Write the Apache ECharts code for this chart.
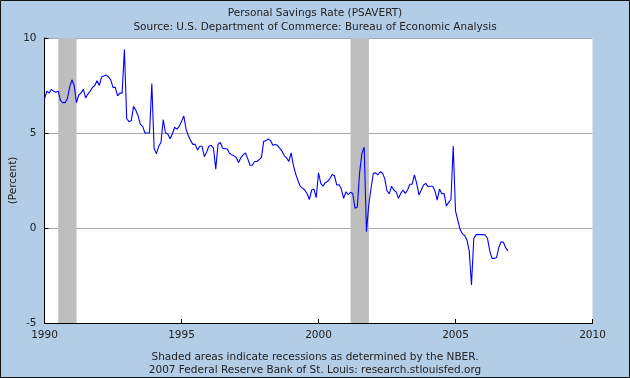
<!DOCTYPE html>
<html>
<head>
<meta charset="utf-8">
<script src="https://cdn.jsdelivr.net/npm/echarts@6/dist/echarts.min.js"></script>
<style>html,body{margin:0;padding:0;background:#B4CDE6;}#c{width:630px;height:378px;}</style>
</head>
<body>
<div id="c"></div>
<script>
// Monthly personal savings rate (%), Jan 1990 .. Dec 2006
const startYear = 1990;
const savingsRate = [
  6.8, 7.2, 7.1, 7.3, 7.2, 7.15, 7.2, 6.7, 6.6, 6.6, 6.8, 7.4,
  7.8, 7.5, 6.6, 7.0, 7.1, 7.3, 6.85, 7.05, 7.2, 7.4, 7.5, 7.75,
  7.5, 7.95, 8.0, 8.05, 7.95, 7.8, 7.4, 7.4, 6.95, 7.1, 7.1, 9.4,
  5.75, 5.6, 5.65, 6.4, 6.2, 5.9, 5.45, 5.35, 5.0, 5.0, 5.0, 7.6,
  4.2, 3.9, 4.3, 4.5, 5.7, 5.0, 4.95, 4.7, 4.95, 5.3, 5.2, 5.35,
  5.6, 5.9, 5.2, 4.85, 4.6, 4.4, 4.4, 4.1, 4.3, 4.3, 3.75, 4.0,
  4.3, 4.35, 4.2, 3.1, 4.4, 4.5, 4.2, 4.17, 4.17, 3.93, 3.85, 3.8,
  3.7, 3.45, 3.7, 3.85, 3.95, 3.65, 3.3, 3.3, 3.5, 3.5, 3.6, 3.7,
  4.57, 4.6, 4.68, 4.6, 4.35, 4.4, 4.35, 4.2, 4.05, 3.8, 3.7, 3.5,
  3.95, 3.3, 2.85, 2.5, 2.2, 2.1, 2.0, 1.8, 1.5, 2.0, 2.05, 1.6,
  2.9, 2.35, 2.2, 2.4, 2.45, 2.6, 2.82, 2.75, 2.26, 2.28, 2.05, 1.56,
  1.9, 1.75, 1.88, 1.82, 1.04, 1.1, 2.9, 3.93, 4.25, -0.19, 1.2, 2.1,
  2.88, 2.9, 2.8, 2.96, 2.9, 2.6, 1.95, 1.8, 2.2, 2.0, 1.9, 1.56,
  1.82, 2.0, 1.82, 2.0, 2.3, 2.3, 2.79, 2.35, 1.74, 2.0, 2.26, 2.35,
  2.18, 2.2, 2.2, 1.95, 1.47, 2.05, 1.8, 1.82, 1.16, 1.35, 1.5, 4.32,
  0.9, 0.42, -0.07, -0.3, -0.4, -0.63, -1.2, -3.0, -0.55, -0.35, -0.35, -0.35,
  -0.35, -0.37, -0.55, -1.2, -1.6, -1.6, -1.55, -1.0, -0.72, -0.75, -1.05, -1.2
];
// NBER recessions (decimal years)
const recessions = [[1990.5, 1991.17], [2001.17, 2001.84]];
const xTicks = [1990, 1995, 2000, 2005, 2010];
const yTicks = [-5, 0, 5, 10];

const titleText = 'Personal Savings Rate (PSAVERT)';
const subText = 'Source: U.S. Department of Commerce: Bureau of Economic Analysis';
const foot1 = 'Shaded areas indicate recessions as determined by the NBER.';
const foot2 = '2007 Federal Reserve Bank of St. Louis: research.stlouisfed.org';

const FONT = 'DejaVu Sans';
const seriesData = savingsRate.map((v, i) => [startYear + i / 12, v]);

const chart = echarts.init(document.getElementById('c'), null, {renderer: 'canvas'});
const txt = {fontFamily: FONT, fontSize: 10.5, color: '#222', fontWeight: 'normal'};
chart.setOption({
  animation: false,
  backgroundColor: '#B4CDE6',
  textStyle: {fontFamily: FONT},
  title: [
    {text: titleText, left: 'center', top: 3, textStyle: txt},
    {text: subText, left: 'center', top: 17, textStyle: txt},
    {text: foot1, left: 'center', top: 347, textStyle: txt},
    {text: foot2, left: 'center', top: 360, textStyle: txt}
  ],
  graphic: [{
    type: 'rect', silent: true, z: 100,
    shape: {x: 0.5, y: 0.5, width: 629, height: 377},
    style: {fill: 'none', stroke: '#111', lineWidth: 1}
  }],
  grid: {left: 44.5, right: 37.5, top: 38, bottom: 55, show: true, backgroundColor: '#FFFFFF', borderWidth: 0,
    containLabel: false, outerBoundsMode: 'none'},
  xAxis: {
    type: 'value', min: xTicks[0], max: xTicks[xTicks.length - 1], interval: 5,
    axisLine: {onZero: false, lineStyle: {color: '#000', width: 1}},
    axisTick: {inside: true, length: 4, lineStyle: {color: '#000'}},
    axisLabel: {margin: 7, fontFamily: FONT, fontSize: 10.5, color: '#222',
      formatter: v => xTicks.includes(v) ? String(v) : ''},
    splitLine: {show: false}
  },
  yAxis: {
    type: 'value', min: yTicks[0], max: yTicks[yTicks.length - 1], interval: 5,
    name: '(Percent)', nameLocation: 'middle', nameGap: 26, nameRotate: 90,
    nameMoveOverlap: false,
    nameTextStyle: {fontFamily: FONT, fontSize: 10.5, color: '#222'},
    axisLine: {show: true, lineStyle: {color: '#000', width: 1}},
    axisTick: {inside: true, length: 4, lineStyle: {color: '#000'}},
    axisLabel: {margin: 8, fontFamily: FONT, fontSize: 10.5, color: '#222'},
    splitLine: {show: true, lineStyle: {color: '#A8A8A8', width: 1}}
  },
  series: [{
    type: 'line',
    data: seriesData,
    showSymbol: false,
    lineStyle: {color: '#0000FF', width: 1.1},
    itemStyle: {color: '#0000FF'},
    z: 5,
    markArea: {
      silent: true,
      itemStyle: {color: '#BEBEBE', opacity: 1},
      data: recessions.map(r => [{xAxis: r[0]}, {xAxis: r[1]}])
    }
  }]
});
</script>
</body>
</html>
